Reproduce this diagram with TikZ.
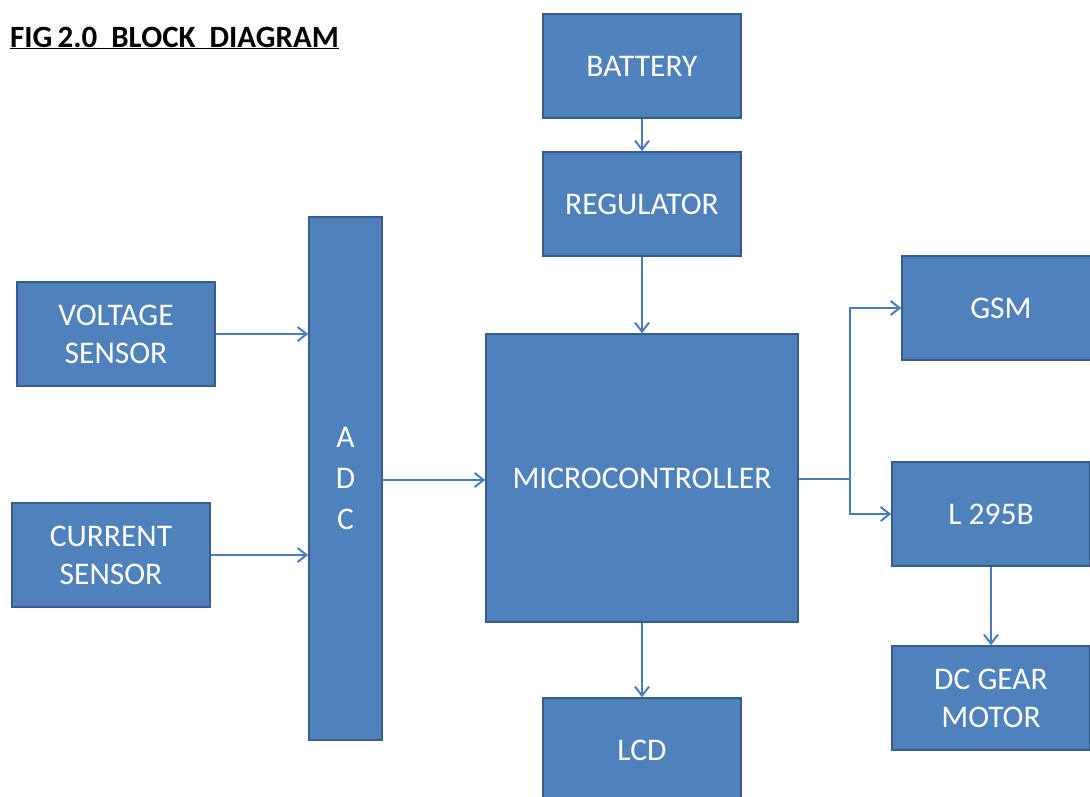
\documentclass[tikz,border=0pt]{standalone}
\usepackage{fontspec}
\setmainfont{Carlito}
\usetikzlibrary{arrows.meta}
\definecolor{boxfill}{HTML}{4F81BD}
\definecolor{boxline}{HTML}{385D8A}
\definecolor{arrowc}{HTML}{4A7EBB}
\tikzset{
  blk/.style={draw=boxline, line width=1.5pt, fill=boxfill, text=white, align=center,
    font=\fontsize{31.5}{38}\selectfont, inner sep=0pt},
  conn/.style={draw=arrowc, line width=2pt, -{Straight Barb[length=9pt,width=14pt,line width=2pt]}},
  plain/.style={draw=arrowc, line width=2.5pt}
}
\begin{document}
\begin{tikzpicture}[x=1pt,y=-1pt]
\useasboundingbox (0,0) rectangle (1090,796);
\begin{scope}
\clip (0,0) rectangle (1090,796);
\node[blk, minimum width=198pt, minimum height=104pt] (bat) at (642,66) {BATTERY};
\node[blk, minimum width=198pt, minimum height=104pt] (reg) at (642,204) {REGULATOR};
\node[blk, minimum width=312pt, minimum height=288pt] (mcu) at (642,478) {MICROCONTROLLER};
\node[blk, minimum width=198pt, minimum height=104pt] (lcd) at (642,750) {LCD};
\node[blk, minimum width=73pt, minimum height=523pt, font=\fontsize{31.5}{41}\selectfont] (adc) at (345.5,478.5) {A\\D\\C};
\node[blk, minimum width=198pt, minimum height=104pt] (vs) at (116,334) {VOLTAGE\\SENSOR};
\node[blk, minimum width=198pt, minimum height=104pt] (cs) at (111,555) {CURRENT\\SENSOR};
\node[blk, minimum width=198pt, minimum height=104pt] (gsm) at (1001,308) {GSM};
\node[blk, minimum width=198pt, minimum height=104pt] (l295) at (991,514) {L 295B};
\node[blk, minimum width=198pt, minimum height=104pt] (dcm) at (991,698) {DC GEAR\\MOTOR};
\end{scope}
\node[anchor=west, inner sep=0pt, font=\fontsize{31}{36}\bfseries] (title) at (10,38)
  {\underline{FIG\,2.0\ \ BLOCK\ \ DIAGRAM}};
\coordinate (j) at (850,479);
\draw[conn] (bat) -- (reg);
\draw[conn] (reg) -- (mcu);
\draw[conn] (mcu) -- (lcd);
\draw[conn] (vs.east) -- (vs.east -| adc.west);
\draw[conn] (cs.east) -- (cs.east -| adc.west);
\draw[conn] (adc.east |- 0,480) -- (mcu.west |- 0,480);
\draw[plain] (mcu.east |- j) -- (j);
\draw[conn] (j) |- (gsm.west);
\draw[conn] (j) |- (l295.west);
\draw[conn] (l295) -- (dcm);
\end{tikzpicture}
\end{document}
